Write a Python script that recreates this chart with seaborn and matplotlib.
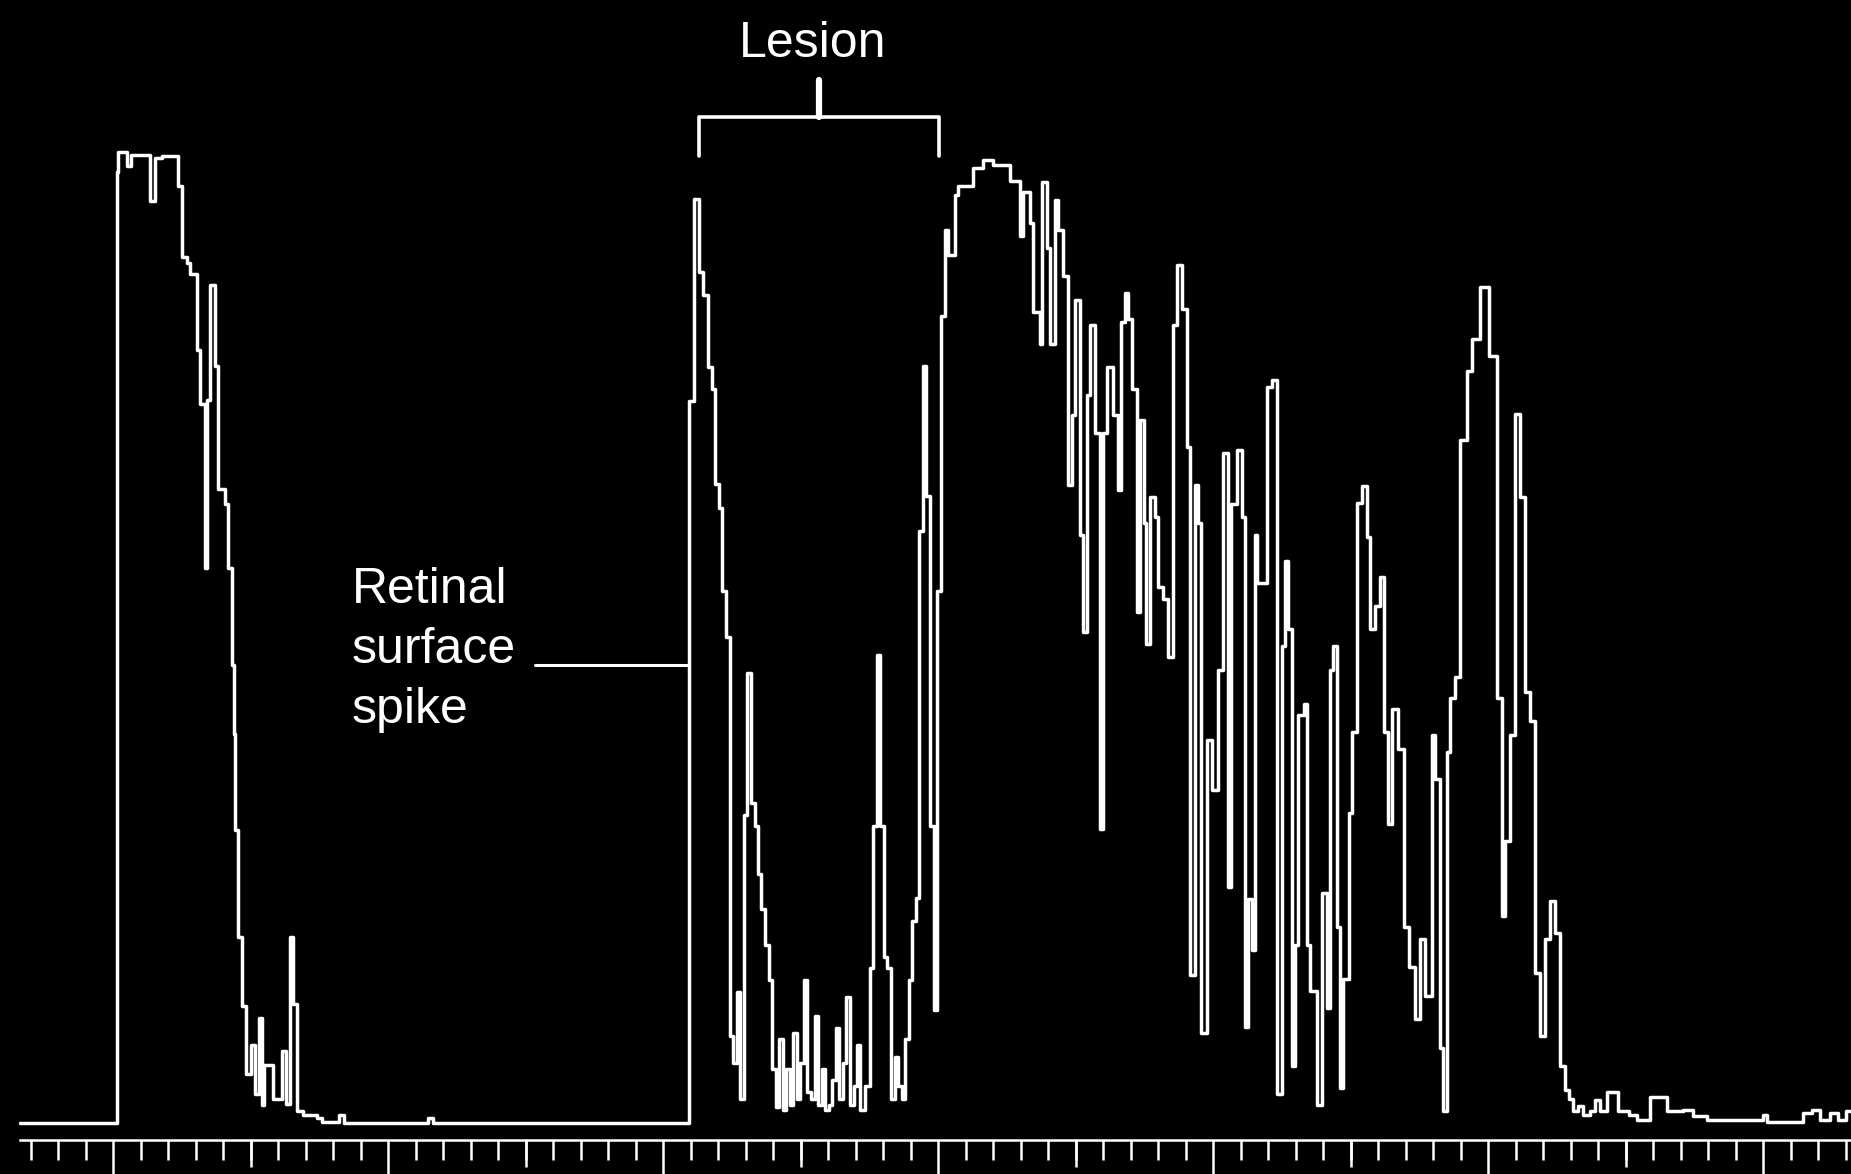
import numpy as np
import matplotlib.pyplot as plt
from matplotlib.ticker import MultipleLocator, FixedLocator
import seaborn as sns

# A-scan trace: position along the ruler (minor tick units) and echo amplitude (%)
pos = [-3.38, 0.13, 0.19, 0.50, 0.64, 1.35, 1.53, 1.77, 2.38, 2.50, 2.68, 2.80,
       3.04, 3.16, 3.35, 3.41, 3.53, 3.71, 3.83, 4.07, 4.19, 4.31, 4.40, 4.45,
       4.55, 4.70, 4.85, 5.00, 5.15, 5.30, 5.40, 5.50, 5.80, 6.13, 6.30, 6.44,
       6.55, 6.70, 6.90, 7.40, 7.60, 8.20, 8.40, 11.45, 11.65,
       20.93, 21.13, 21.30, 21.47, 21.64, 21.77, 21.90, 22.03, 22.16, 22.29,
       22.42, 22.55, 22.68, 22.81, 22.94, 23.07, 23.20, 23.33, 23.45, 23.58,
       23.71, 23.84, 23.97, 24.10, 24.22, 24.35, 24.48, 24.61, 24.73, 24.86,
       24.99, 25.12, 25.25, 25.38, 25.51, 25.64, 25.77, 25.90, 26.03, 26.15,
       26.28, 26.41, 26.54, 26.67, 26.80, 26.93, 27.05, 27.18, 27.35, 27.52,
       27.65, 27.78, 27.90, 28.03, 28.16, 28.29, 28.42, 28.55, 28.68, 28.81,
       28.94, 29.07, 29.20, 29.32, 29.45, 29.58, 29.71, 29.84, 29.97, 30.10,
       30.25, 30.37, 30.62, 30.74, 31.28, 31.65, 32.00, 32.60, 32.98, 33.10,
       33.34, 33.46, 33.70, 33.77, 33.95, 34.07, 34.25, 34.37, 34.55, 34.74,
       34.86, 34.98, 35.16, 35.28, 35.40, 35.52, 35.70, 35.89, 36.01, 36.13,
       36.37, 36.55, 36.67, 36.80, 36.92, 37.04, 37.22, 37.34, 37.49, 37.58,
       37.71, 37.89, 38.01, 38.19, 38.37, 38.55, 38.68, 38.86, 39.04, 39.16,
       39.34, 39.46, 39.58, 39.77, 39.95, 40.19, 40.37, 40.55, 40.67, 40.86,
       41.04, 41.16, 41.28, 41.40, 41.52, 41.60, 41.95, 42.14, 42.32, 42.50,
       42.62, 42.74, 42.86, 42.98, 43.10, 43.30, 43.41, 43.53, 43.77, 43.96,
       44.14, 44.26, 44.38, 44.50, 44.62, 44.74, 44.93, 45.05, 45.23, 45.41,
       45.59, 45.71, 45.90, 46.08, 46.20, 46.38, 46.50, 46.74, 46.93, 47.11,
       47.35, 47.53, 47.71, 47.96, 48.08, 48.26, 48.38, 48.50, 48.62, 48.80,
       48.99, 49.23, 49.41, 49.71, 50.02, 50.32, 50.50, 50.62, 50.80, 50.99,
       51.17, 51.35, 51.53, 51.71, 51.89, 52.08, 52.26, 52.44, 52.62, 52.80,
       52.95, 53.10, 53.29, 53.47, 53.71, 53.90, 54.08, 54.32, 54.74, 55.11,
       55.41, 55.90, 56.50, 57.10, 57.47, 57.95, 60.00, 60.14, 61.47, 61.77,
       62.08, 62.44, 62.74, 63.00, 63.25]
amp = [0.0, 97.7, 99.8, 98.3, 99.5, 94.7, 99.2, 99.4, 96.3, 89.0, 88.4, 87.2,
       79.4, 73.9, 57.0, 74.3, 86.1, 77.8, 65.2, 63.6, 57.0, 47.1, 40.0, 30.1,
       19.1, 12.0, 5.0, 8.0, 3.0, 10.8, 1.9, 6.0, 2.5, 7.4, 2.0, 19.1,
       12.2, 1.2, 0.8, 0.5, 0.1, 0.8, 0.0, 0.5, 0.0,
       74.2, 95.0, 87.5, 85.1, 77.7, 75.4, 65.7, 63.2, 54.7, 49.9,
       8.9, 6.2, 13.5, 2.5, 31.7, 46.2, 32.9, 30.5, 25.6, 22.0,
       18.3, 14.7, 5.6, 1.6, 8.6, 1.3, 5.6, 1.9, 9.2, 2.5,
       6.2, 14.7, 3.2, 2.5, 11.0, 1.9, 5.6, 1.3, 1.9, 4.4,
       9.8, 2.5, 6.2, 12.9, 1.9, 3.8, 8.0, 1.3, 3.8, 15.9,
       30.5, 48.1, 30.5, 17.1, 15.9, 2.5, 6.8, 3.8, 2.5, 8.6,
       14.7, 20.8, 23.1, 60.8, 77.8, 64.4, 30.5, 11.6, 54.7, 82.9,
       91.8, 89.2, 95.4, 96.3, 98.1, 99.0, 98.4, 96.8, 91.2, 95.7,
       92.5, 83.3, 80.0, 96.7, 89.9, 80.0, 94.8, 91.8, 87.0, 65.6,
       72.8, 84.6, 60.4, 50.5, 74.8, 82.0, 70.9, 30.2, 70.9, 77.7,
       72.8, 65.0, 82.3, 85.3, 82.6, 75.4, 52.5, 72.2, 61.7, 49.2,
       64.3, 62.3, 55.1, 53.8, 47.9, 82.0, 88.2, 83.6, 69.5, 15.2,
       65.6, 61.7, 9.3, 39.4, 34.2, 46.6, 68.9, 24.3, 63.6, 69.2,
       62.3, 9.9, 23.0, 17.8, 60.4, 55.5, 75.6, 76.4, 3.0, 49.0,
       57.8, 50.8, 5.9, 18.3, 41.9, 43.1, 18.3, 13.6, 1.8, 23.6,
       11.8, 46.6, 49.0, 20.1, 3.6, 14.8, 31.9, 40.2, 63.7, 65.5,
       60.2, 50.8, 53.1, 56.1, 40.2, 30.7, 42.5, 38.4, 20.1, 16.0,
       10.7, 18.9, 13.0, 39.9, 35.4, 7.7, 1.2, 38.1, 43.7, 45.8,
       70.2, 77.3, 80.6, 85.9, 78.8, 43.7, 21.3, 29.0, 39.9, 72.9,
       64.3, 44.3, 41.3, 15.4, 8.9, 18.9, 22.8, 19.5, 5.9, 3.4,
       2.5, 1.2, 1.7, 0.8, 1.2, 2.4, 1.2, 3.2, 1.2, 0.8,
       0.3, 2.7, 1.2, 1.3, 0.7, 0.3, 0.8, 0.1, 1.0, 1.3,
       0.3, 1.0, 0.3, 1.2, 1.2]

lesion_start, lesion_end = 21.30, 30.05
surface_spike = 20.93

sns.set_style("dark", {"axes.facecolor": "black", "figure.facecolor": "black"})
plt.rcParams['font.family'] = ['Liberation Sans', 'DejaVu Sans']

fig = plt.figure(figsize=(18.51, 11.74), dpi=100)
ax = fig.add_axes([0, 0, 1, 1])
ax.set_facecolor('black')

sns.lineplot(x=pos, y=amp, ax=ax, color='white', linewidth=2.5,
             drawstyle='steps-post', estimator=None, sort=False)

ymin, ymax = -5.24, 115.4
ax.set_xlim(-4.11, 63.2)
ax.set_ylim(ymin, ymax)
ax.grid(False)

# ruler along the bottom
axis_y = -1.75
for s in ['left', 'top', 'right']:
    ax.spines[s].set_visible(False)
ax.spines['bottom'].set_position(('data', axis_y))
ax.spines['bottom'].set_bounds(-3.4, 63.2)
ax.spines['bottom'].set_color('white')
ax.spines['bottom'].set_linewidth(1.8)
ax.xaxis.set_major_locator(MultipleLocator(10))
ax.xaxis.set_minor_locator(FixedLocator(np.arange(-3, 64)))
ax.tick_params(axis='x', which='both', bottom=True, labelbottom=False)
ax.tick_params(axis='x', which='major', direction='out', length=30, width=1.8,
               colors='white')
ax.tick_params(axis='x', which='minor', direction='out', length=14.5, width=1.8,
               colors='white')
ax.set_yticks([])

sec = ax.secondary_xaxis((axis_y - ymin) / (ymax - ymin))
sec.set_xticks(np.arange(5, 61, 10))
sec.tick_params(bottom=True, direction='out', length=19.5, width=1.8,
                colors='white', labelbottom=False)
sec.spines['bottom'].set_visible(False)

# lesion bracket
ax.plot([lesion_start, lesion_start, lesion_end, lesion_end],
        [99.4, 103.4, 103.4, 99.4], color='white', lw=2.6)
mid = (lesion_start + lesion_end) / 2
ax.plot([mid, mid], [103.4, 107.2], color='white', lw=4.5)
ax.text(mid - 0.25, 110.9, 'Lesion', color='white', fontsize=36,
        ha='center', va='center')

# retinal surface spike label
ax.plot([15.34, surface_spike], [47.1, 47.1], color='white', lw=2.2)
ax.text(8.68, 48.6, 'Retinal\nsurface\nspike', color='white', fontsize=36,
        ha='left', va='center', linespacing=1.4)

plt.savefig('out.png', dpi=100, facecolor='black')
